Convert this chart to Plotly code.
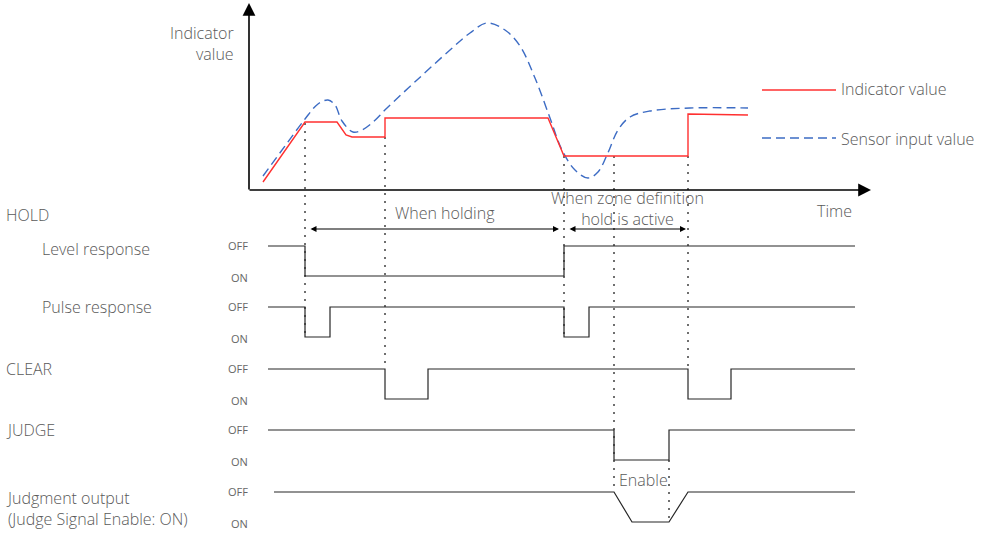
import plotly.graph_objects as go

# ---------------- data ----------------
# Indicator value (red) : time, value (screen-like units)
ind_t = [263, 305, 337, 342, 346, 352, 385, 385, 548, 564, 688, 688, 748]
ind_v = [182, 122, 122, 130, 135, 137, 137, 118, 118, 156, 156, 114, 115]

# Sensor input value (blue dashed)
sen_t = [263, 285, 305, 318, 328, 335, 342, 353, 362, 372, 387, 417, 450, 470, 487,
         505, 520, 535, 550, 562, 575, 588, 598, 607, 618, 630, 650, 690, 748]
sen_v = [176, 146, 119, 104, 100, 105, 121, 132, 130, 123, 108, 80, 50, 33, 23,
         30, 46, 78, 118, 150, 170, 178, 172, 155, 130, 117, 111, 108, 108]

# Timing signals: time of each vertex, state (0 = OFF, 1 = ON)
level_t = [268, 305, 305, 564, 564, 855]
level_s = [0, 0, 1, 1, 0, 0]
pulse_t = [268, 305, 305, 330, 330, 564, 564, 589, 589, 855]
pulse_s = [0, 0, 1, 1, 0, 0, 1, 1, 0, 0]
clear_t = [268, 385, 385, 428, 428, 688, 688, 731, 731, 855]
clear_s = [0, 0, 1, 1, 0, 0, 1, 1, 0, 0]
judge_t = [268, 614, 614, 669, 669, 855]
judge_s = [0, 0, 1, 1, 0, 0]
output_t = [274, 614, 632, 669, 688, 855]
output_s = [0, 0, 1, 1, 0, 0]

row_labels = ["Level response", "Pulse response", "CLEAR", "JUDGE",
              "Judgment output<br>(Judge Signal Enable: ON)"]

# event markers (dotted guides): time, top, bottom
guide_t = [305, 385, 564, 614, 669, 688]
guide_top = [123, 137, 156, 156, 460, 156]
guide_bot = [337, 369, 337, 492, 522, 369]

# ---------------- layout constants ----------------
row_off_y = [246, 307, 369, 430, 492]
row_amp = 30
TXT = "#595959"
FONT = "Open Sans"
SIG = "#262626"

fig = go.Figure()

def add_line(x, y, color, width, dash="solid", shape="linear"):
    fig.add_trace(go.Scatter(x=x, y=y, mode="lines", hoverinfo="skip",
                             line=dict(color=color, width=width, dash=dash, shape=shape),
                             showlegend=False))

# dotted guides
for t, a, b in zip(guide_t, guide_top, guide_bot):
    add_line([t, t], [a, b], "#333333", 1.4, dash="2px,6px")

# sensor & indicator
add_line(sen_t, sen_v, "#3d6cc4", 1.4, dash="9px,5px", shape="spline")
add_line(ind_t, ind_v, "#ff3030", 1.4)

# signals
signals = [(level_t, level_s), (pulse_t, pulse_s), (clear_t, clear_s),
           (judge_t, judge_s), (output_t, output_s)]
for (t, s), base in zip(signals, row_off_y):
    add_line(t, [base + row_amp * v for v in s], SIG, 1.2)

# legend samples
add_line([762, 836], [90, 90], "#ff3030", 1.4)
add_line([762, 836], [138, 138], "#3d6cc4", 1.4, dash="9px,5px")

ann = []
def text(x, y, s, size=16, anchor="left", color=TXT, align="left", weight=300):
    ann.append(dict(x=x, y=y, text=s, showarrow=False, xanchor=anchor, yanchor="middle",
                    align=align, font=dict(family=FONT, size=size, color=color, weight=weight)))

# axes with arrows
ann.append(dict(x=249, y=3, ax=249, ay=191, xref="x", yref="y", axref="x", ayref="y",
                text="", showarrow=True, arrowhead=2, arrowsize=1.6, arrowwidth=1.6,
                arrowcolor="#000"))
ann.append(dict(x=871, y=190, ax=248, ay=190, xref="x", yref="y", axref="x", ayref="y",
                text="", showarrow=True, arrowhead=2, arrowsize=1.6, arrowwidth=1.6,
                arrowcolor="#000"))
# span arrows
for x0, x1 in [(309, 559), (568, 686)]:
    ann.append(dict(x=x1, y=229, ax=x0, ay=229, xref="x", yref="y", axref="x", ayref="y",
                    text="", showarrow=True, arrowhead=2, arrowside="end+start",
                    arrowsize=1, arrowwidth=1.2, arrowcolor="#000"))

text(236, 43, "Indicator<br>value", anchor="right", align="right")
text(839, 89, "Indicator value")
text(839, 139, "Sensor input value")
text(834, 211, "Time", anchor="center")
text(445, 213, "When holding", anchor="center")
text(627, 208, "When zone definition<br>hold is active", anchor="center", align="center")
text(643, 480, "Enable", anchor="center")
text(4, 215, "HOLD")
text(40, 249, row_labels[0])
text(40, 307, row_labels[1])
text(4, 369, row_labels[2])
text(4, 430, row_labels[3])
text(4, 508, row_labels[4])
for base in row_off_y:
    text(250, base - 1, "OFF", size=11, anchor="right", color="#666666", weight=400)
    text(250, base + row_amp + 1, "ON", size=11, anchor="right", color="#666666", weight=400)

fig.update_layout(
    width=989, height=534, margin=dict(l=0, r=0, t=0, b=0),
    paper_bgcolor="white", plot_bgcolor="white",
    xaxis=dict(range=[0, 989], visible=False, fixedrange=True),
    yaxis=dict(range=[534, 0], visible=False, fixedrange=True),
    annotations=ann, showlegend=False, hovermode=False,
)
fig.write_html("out.html", config={"displayModeBar": False},
               post_script="document.body.style.margin='0';document.body.style.overflow='hidden';")
